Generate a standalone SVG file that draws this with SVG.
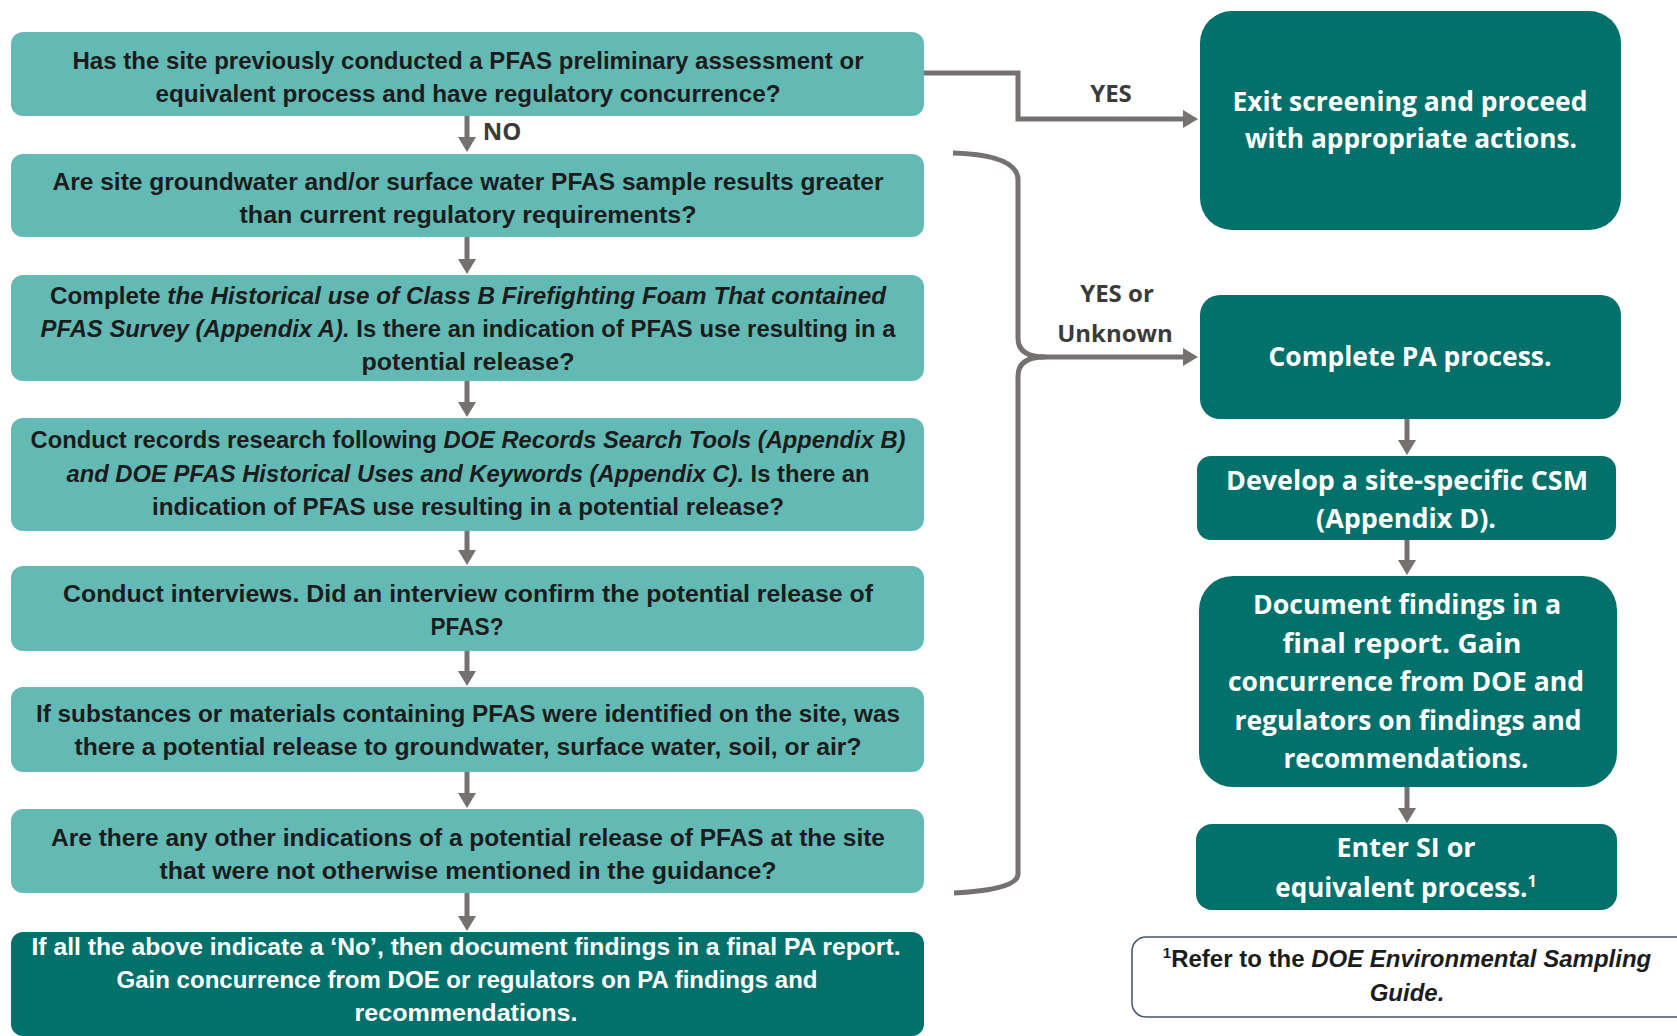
<svg xmlns="http://www.w3.org/2000/svg" width="1677" height="1036" viewBox="0 0 1677 1036">
<defs>
<style>
.lt{fill:#63b9b4}
.dk{fill:#03716b}
.q{font-family:"Liberation Sans",Arial,sans-serif;font-weight:bold;font-size:24px;fill:#1c1c1c;text-anchor:middle}
.qw{font-family:"Liberation Sans",Arial,sans-serif;font-weight:bold;font-size:24px;fill:#ffffff;text-anchor:middle}
.r{font-family:"Open Sans","Liberation Sans",sans-serif;font-weight:bold;font-size:26px;fill:#ffffff;text-anchor:middle}
.lbl{font-family:"Open Sans","Liberation Sans",sans-serif;font-weight:bold;font-size:24px;fill:#3b3b3b;text-anchor:middle}
.it{font-style:italic}
.c{fill:none;stroke:#767171;stroke-width:5}
</style>
<marker id="ah" markerUnits="userSpaceOnUse" markerWidth="16" markerHeight="18" refX="2" refY="9" orient="auto">
<path d="M0,0 L15,9 L0,18 z" fill="#767171"/>
</marker>
</defs>
<rect width="1677" height="1036" fill="#ffffff"/>

<g id="connectors">
<path class="c" d="M924,73 H1018 V119 H1185" marker-end="url(#ah)"/>
<path class="c" d="M467,116 V139" marker-end="url(#ah)"/>
<path class="c" d="M467,237 V261" marker-end="url(#ah)"/>
<path class="c" d="M467,381 V404" marker-end="url(#ah)"/>
<path class="c" d="M467,531 V552" marker-end="url(#ah)"/>
<path class="c" d="M467,651 V673" marker-end="url(#ah)"/>
<path class="c" d="M467,772 V795" marker-end="url(#ah)"/>
<path class="c" d="M467,893 V918" marker-end="url(#ah)"/>
<path class="c" d="M1407,419 V442" marker-end="url(#ah)"/>
<path class="c" d="M1407,540 V562" marker-end="url(#ah)"/>
<path class="c" d="M1407,787 V810" marker-end="url(#ah)"/>
<path class="c" d="M953,153 Q1018,155 1018,180 V338 Q1018,357 1045,357 M1018,376 Q1018,357 1045,357 M1018,376 V874 Q1018,890 954,893"/>
<path class="c" d="M1040,357 H1185" marker-end="url(#ah)"/>
<text class="lbl" x="502" y="140">NO</text>
<text class="lbl" x="1111" y="102">YES</text>
<text class="lbl" x="1117" y="302">YES or</text>
<text class="lbl" x="1115" y="342">Unknown</text>
</g>

<g id="q1">
<rect class="lt" x="11" y="32" width="913" height="84" rx="12"/>
<text class="q" x="468" y="69" textLength="791" lengthAdjust="spacingAndGlyphs">Has the site previously conducted a PFAS preliminary assessment or</text>
<text class="q" x="468" y="102" textLength="625" lengthAdjust="spacingAndGlyphs">equivalent process and have regulatory concurrence?</text>
</g>

<g id="q2">
<rect class="lt" x="11" y="154" width="913" height="83" rx="12"/>
<text class="q" x="468" y="190" textLength="831" lengthAdjust="spacingAndGlyphs">Are site groundwater and/or surface water PFAS sample results greater</text>
<text class="q" x="468" y="223" textLength="457" lengthAdjust="spacingAndGlyphs">than current regulatory requirements?</text>
</g>

<g id="q3">
<rect class="lt" x="11" y="275" width="913" height="106" rx="12"/>
<text class="q" x="468" y="304" textLength="836" lengthAdjust="spacingAndGlyphs">Complete <tspan class="it">the Historical use of Class B Firefighting Foam That contained</tspan></text>
<text class="q" x="468" y="337" textLength="855" lengthAdjust="spacingAndGlyphs"><tspan class="it">PFAS Survey (Appendix A).</tspan> Is there an indication of PFAS use resulting in a</text>
<text class="q" x="468" y="370" textLength="213" lengthAdjust="spacingAndGlyphs">potential release?</text>
</g>

<g id="q4">
<rect class="lt" x="11" y="418" width="913" height="113" rx="12"/>
<text class="q" x="468" y="448" textLength="875" lengthAdjust="spacingAndGlyphs">Conduct records research following <tspan class="it">DOE Records Search Tools (Appendix B)</tspan></text>
<text class="q" x="468" y="482" textLength="803" lengthAdjust="spacingAndGlyphs"><tspan class="it">and DOE PFAS Historical Uses and Keywords (Appendix C).</tspan> Is there an</text>
<text class="q" x="468" y="515" textLength="632" lengthAdjust="spacingAndGlyphs">indication of PFAS use resulting in a potential release?</text>
</g>

<g id="q5">
<rect class="lt" x="11" y="566" width="913" height="85" rx="12"/>
<text class="q" x="468" y="602" textLength="810" lengthAdjust="spacingAndGlyphs">Conduct interviews. Did an interview confirm the potential release of</text>
<text class="q" x="467" y="635" textLength="73" lengthAdjust="spacingAndGlyphs">PFAS?</text>
</g>

<g id="q6">
<rect class="lt" x="11" y="687" width="913" height="85" rx="12"/>
<text class="q" x="468" y="722" textLength="864" lengthAdjust="spacingAndGlyphs">If substances or materials containing PFAS were identified on the site, was</text>
<text class="q" x="468" y="755" textLength="787" lengthAdjust="spacingAndGlyphs">there a potential release to groundwater, surface water, soil, or air?</text>
</g>

<g id="q7">
<rect class="lt" x="11" y="809" width="913" height="84" rx="12"/>
<text class="q" x="468" y="846" textLength="834" lengthAdjust="spacingAndGlyphs">Are there any other indications of a potential release of PFAS at the site</text>
<text class="q" x="468" y="879" textLength="617" lengthAdjust="spacingAndGlyphs">that were not otherwise mentioned in the guidance?</text>
</g>

<g id="q8">
<rect class="dk" x="11" y="932" width="913" height="104" rx="12"/>
<text class="qw" x="466" y="955" textLength="869" lengthAdjust="spacingAndGlyphs">If all the above indicate a ‘No’, then document findings in a final PA report.</text>
<text class="qw" x="467" y="988" textLength="701" lengthAdjust="spacingAndGlyphs">Gain concurrence from DOE or regulators on PA findings and</text>
<text class="qw" x="466" y="1021" textLength="223" lengthAdjust="spacingAndGlyphs">recommendations.</text>
</g>

<g id="exit">
<rect class="dk" x="1200" y="11" width="421" height="219" rx="32"/>
<text class="r" x="1410" y="111" textLength="355" lengthAdjust="spacingAndGlyphs">Exit screening and proceed</text>
<text class="r" x="1411" y="148" textLength="332" lengthAdjust="spacingAndGlyphs">with appropriate actions.</text>
</g>

<g id="pa">
<rect class="dk" x="1200" y="295" width="421" height="124" rx="20"/>
<text class="r" x="1410" y="366" textLength="283" lengthAdjust="spacingAndGlyphs">Complete PA process.</text>
</g>

<g id="csm">
<rect class="dk" x="1197" y="456" width="419" height="84" rx="14"/>
<text class="r" x="1407" y="490" textLength="362" lengthAdjust="spacingAndGlyphs">Develop a site-specific CSM</text>
<text class="r" x="1406" y="528" textLength="180" lengthAdjust="spacingAndGlyphs">(Appendix D).</text>
</g>

<g id="doc">
<rect class="dk" x="1199" y="576" width="418" height="211" rx="34"/>
<text class="r" x="1407" y="614" textLength="308" lengthAdjust="spacingAndGlyphs">Document findings in a</text>
<text class="r" x="1402" y="653" textLength="239" lengthAdjust="spacingAndGlyphs">final report. Gain</text>
<text class="r" x="1406" y="691" textLength="356" lengthAdjust="spacingAndGlyphs">concurrence from DOE and</text>
<text class="r" x="1408" y="730" textLength="347" lengthAdjust="spacingAndGlyphs">regulators on findings and</text>
<text class="r" x="1406" y="768" textLength="245" lengthAdjust="spacingAndGlyphs">recommendations.</text>
</g>

<g id="si">
<rect class="dk" x="1196" y="824" width="421" height="86" rx="16"/>
<text class="r" x="1406" y="857" textLength="139" lengthAdjust="spacingAndGlyphs">Enter SI or</text>
<text class="r" x="1406" y="897">equivalent process.<tspan font-size="16" dy="-10">1</tspan></text>
</g>

<g id="footnote">
<rect x="1132" y="937" width="560" height="80" rx="14" fill="#ffffff" stroke="#44546a" stroke-width="1.5"/>
<text class="q" x="1407" y="967"><tspan font-size="15" dy="-9">1</tspan><tspan dy="9">Refer to the </tspan><tspan class="it">DOE Environmental Sampling</tspan></text>
<text class="q it" x="1407" y="1001">Guide.</text>
</g>
</svg>
